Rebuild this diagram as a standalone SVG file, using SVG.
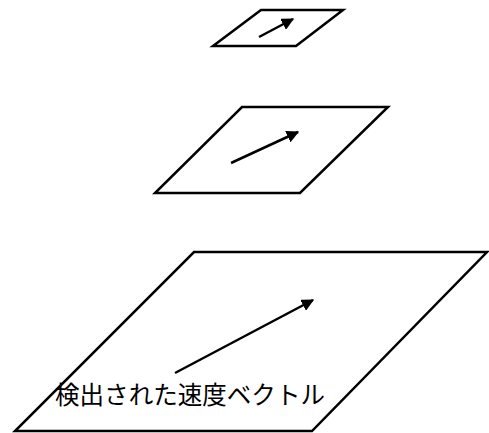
<svg xmlns="http://www.w3.org/2000/svg" width="489" height="433" viewBox="0 0 489 433">
<style>
.plane{fill:none;stroke:#000;stroke-width:2.5;stroke-linejoin:miter}
.vec{stroke:#000;stroke-width:2.5;fill:none}
.lbl{font-family:"Noto Sans CJK JP","Liberation Sans",sans-serif;font-size:25px;fill:#000}
</style>
<defs>
<marker id="ah" viewBox="0 0 10 10" refX="9" refY="5" markerWidth="5" markerHeight="5" markerUnits="strokeWidth" orient="auto">
<path d="M0,0 L10,5 L0,10 z" fill="#000"/>
</marker>
</defs>
<rect width="489" height="433" fill="#fff"/>
<g id="plane-small"><polygon class="plane" points="261,10 343,10 296,46 213,46"/></g>
<g id="plane-middle"><polygon class="plane" points="242,107 388,107 300,193 155,193"/></g>
<g id="plane-large"><polygon class="plane" points="194,252 487,252 312,431 15,431"/></g>
<g id="connectors">
<line class="vec" x1="259" y1="37" x2="293" y2="19" marker-end="url(#ah)"/>
<line class="vec" x1="231" y1="163" x2="298" y2="132" marker-end="url(#ah)"/>
<line class="vec" x1="175" y1="373" x2="313" y2="300" marker-end="url(#ah)"/>
</g>
<g id="label"><text class="lbl" x="55" y="404" textLength="270" lengthAdjust="spacingAndGlyphs">検出された速度ベクトル</text></g>
</svg>
